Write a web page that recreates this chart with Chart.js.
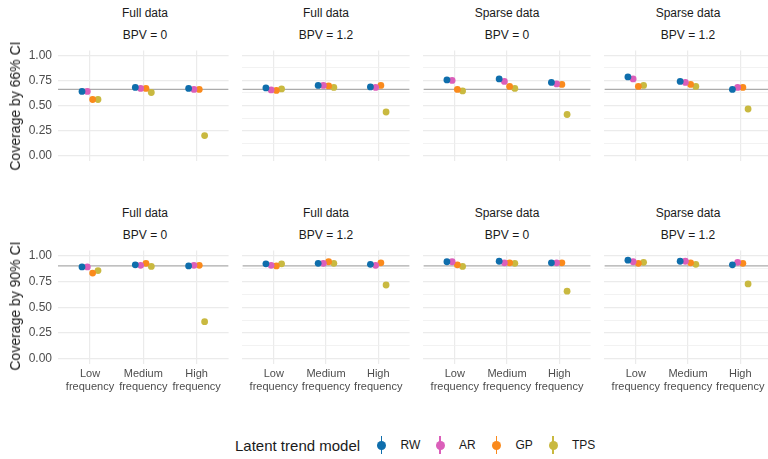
<!DOCTYPE html>
<html>
<head>
<meta charset="utf-8">
<script src="https://cdn.jsdelivr.net/npm/chart.js@4.4.1/dist/chart.umd.min.js"></script>
<style>
  html, body { margin: 0; padding: 0; width: 768px; height: 459px; overflow: hidden; background: #fff;
    font-family: "Liberation Sans", Arial, sans-serif; }
  #stage { position: relative; width: 768px; height: 459px; overflow: hidden; }
  canvas { position: absolute; }
  .lbl { position: absolute; white-space: nowrap; line-height: 1; }
  .ctr { transform: translate(-50%, -50%); }
  .strip { font-size: 12px; color: #1A1A1A; }
  .ytitle { font-size: 14px; color: #1A1A1A; transform: translate(-50%, -50%) rotate(-90deg); }
  .legtitle { font-size: 15px; color: #1A1A1A; transform: translateY(-50%); }
  .legtext { font-size: 12px; color: #1A1A1A; transform: translateY(-50%); }
  .key { position: absolute; width: 18px; height: 20px; transform: translate(-50%, -50%); }
  .key .bar { position: absolute; left: 8.2px; top: 1px; width: 1.6px; height: 18px; }
  .key .dot { position: absolute; left: 4.5px; top: 5.5px; width: 9px; height: 9px; border-radius: 50%; }
</style>
</head>
<body>
<div id="stage"></div>
<script>
// ---- data -------------------------------------------------------------
const frequencies = [["Low", "frequency"], ["Medium", "frequency"], ["High", "frequency"]];
const models = ["RW", "AR", "GP", "TPS"];
const modelColours = ["#0F6EAC", "#DB5FBA", "#FA8A1C", "#C9B940"];
const dataLabels = ["Full data", "Full data", "Sparse data", "Sparse data"];
const bpvLabels = ["BPV = 0", "BPV = 1.2", "BPV = 0", "BPV = 1.2"];
const ciTitles = ["Coverage by 66% CI", "Coverage by 90% CI"];
const nominalCoverage = [0.66, 0.90];
const yMajorTicks = [0, 0.25, 0.5, 0.75, 1];

// coverage per model (rows: RW, AR, GP, TPS) and frequency (Low, Medium, High)
const cov66FullBpv0   = [[0.64, 0.68, 0.67], [0.64, 0.67, 0.66], [0.56, 0.67, 0.66], [0.56, 0.63, 0.20]];
const cov66FullBpv12  = [[0.675, 0.70, 0.685], [0.655, 0.70, 0.68], [0.65, 0.695, 0.70], [0.665, 0.68, 0.435]];
const cov66SparseBpv0 = [[0.755, 0.765, 0.73], [0.75, 0.74, 0.715], [0.66, 0.69, 0.71], [0.645, 0.67, 0.41]];
const cov66SparseBpv12 = [[0.785, 0.74, 0.66], [0.765, 0.73, 0.68], [0.69, 0.71, 0.68], [0.70, 0.69, 0.465]];
const cov90FullBpv0   = [[0.89, 0.91, 0.90], [0.89, 0.905, 0.905], [0.83, 0.925, 0.905], [0.855, 0.895, 0.36]];
const cov90FullBpv12  = [[0.92, 0.925, 0.915], [0.905, 0.925, 0.905], [0.90, 0.94, 0.93], [0.92, 0.925, 0.715]];
const cov90SparseBpv0 = [[0.94, 0.945, 0.93], [0.94, 0.93, 0.93], [0.91, 0.93, 0.93], [0.895, 0.925, 0.655]];
const cov90SparseBpv12 = [[0.955, 0.945, 0.91], [0.94, 0.945, 0.935], [0.925, 0.93, 0.925], [0.935, 0.915, 0.725]];

const panelData = [
  [cov66FullBpv0, cov66FullBpv12, cov66SparseBpv0, cov66SparseBpv12],
  [cov90FullBpv0, cov90FullBpv12, cov90SparseBpv0, cov90SparseBpv12]
];

// ---- layout -----------------------------------------------------------
const FONT = "'Liberation Sans', Arial, sans-serif";
const AREA_LEFT = [58, 239, 420, 601];
const AREA_W = 174;
const AREA_TOP = [47, 247];
const AREA_H = 117;
const Y_AXIS_W = 58;
const X_AXIS_H = 42;
const DODGE = 0.1;

const stage = document.getElementById('stage');

function addLabel(text, cls, x, y) {
  const d = document.createElement('div');
  d.className = 'lbl ' + cls;
  d.textContent = text;
  d.style.left = x + 'px';
  d.style.top = y + 'px';
  stage.appendChild(d);
  return d;
}

const isMajor = v => yMajorTicks.some(t => Math.abs(t - v) < 1e-9);
const yGridValues = [];
for (let i = 0; i < yMajorTicks.length; i++) {
  yGridValues.push(yMajorTicks[i]);
  if (i < yMajorTicks.length - 1) yGridValues.push((yMajorTicks[i] + yMajorTicks[i + 1]) / 2);
}

function makePanel(row, col) {
  const values = panelData[row][col];
  const withY = col === 0;
  const withX = row === 1;
  const cv = document.createElement('canvas');
  const left = AREA_LEFT[col] - (withY ? Y_AXIS_W : 0);
  const w = AREA_W + (withY ? Y_AXIS_W : 0);
  const h = AREA_H + (withX ? X_AXIS_H : 0);
  cv.width = w; cv.height = h;
  cv.style.left = left + 'px';
  cv.style.top = AREA_TOP[row] + 'px';
  cv.style.width = w + 'px';
  cv.style.height = h + 'px';
  stage.appendChild(cv);

  const datasets = models.map((m, k) => ({
    label: m,
    order: 1,
    data: values[k].map((v, i) => ({ x: i + (k - (models.length - 1) / 2) * DODGE, y: v })),
    backgroundColor: modelColours[k],
    borderColor: modelColours[k],
    borderWidth: 0,
    pointRadius: 3.4,
    pointHoverRadius: 3.4
  }));
  // nominal coverage reference line
  datasets.push({
    type: 'line',
    label: 'nominal',
    order: 10,
    data: [{ x: -0.6, y: nominalCoverage[row] }, { x: frequencies.length - 0.4, y: nominalCoverage[row] }],
    borderColor: '#ABABAB',
    borderWidth: 1.3,
    pointRadius: 0,
    fill: false
  });

  new Chart(cv, {
    type: 'scatter',
    data: { datasets },
    options: {
      responsive: false,
      animation: false,
      devicePixelRatio: 1,
      layout: { padding: 0 },
      plugins: { legend: { display: false }, tooltip: { enabled: false } },
      scales: {
        x: {
          type: 'linear',
          min: -0.6,
          max: frequencies.length - 0.4,
          afterBuildTicks: s => { s.ticks = frequencies.map((_, i) => ({ value: i })); },
          ticks: {
            display: withX,
            autoSkip: false,
            maxRotation: 0,
            padding: 4,
            color: '#4D4D4D',
            font: { family: FONT, size: 11, lineHeight: 1.14 },
            callback: v => frequencies[v]
          },
          grid: { color: '#EBEBEB', lineWidth: 1.2, drawTicks: false },
          border: { display: false },
          afterFit: s => {
            s.height = withX ? X_AXIS_H : 0;
            s.paddingLeft = 0; s.paddingRight = 0; s.paddingTop = 0; s.paddingBottom = 0;
          }
        },
        y: {
          type: 'linear',
          min: -0.05,
          max: 1.05,
          afterBuildTicks: s => { s.ticks = yGridValues.map(v => ({ value: v })); },
          ticks: {
            display: withY,
            padding: 6,
            color: '#4D4D4D',
            font: { family: FONT, size: 12 },
            callback: v => isMajor(v) ? v.toFixed(2) : ''
          },
          grid: {
            color: ctx => isMajor(ctx.tick.value) ? '#EBEBEB' : '#EFEFEF',
            lineWidth: ctx => isMajor(ctx.tick.value) ? 1.2 : 0.8,
            drawTicks: false
          },
          border: { display: false },
          afterFit: s => {
            s.width = withY ? Y_AXIS_W : 0;
            s.paddingLeft = 0; s.paddingRight = 0; s.paddingTop = 0; s.paddingBottom = 0;
          }
        }
      }
    }
  });

  // facet strip labels
  const cx = AREA_LEFT[col] + AREA_W / 2;
  addLabel(dataLabels[col], 'strip ctr', cx, AREA_TOP[row] - 34);
  addLabel(bpvLabels[col], 'strip ctr', cx, AREA_TOP[row] - 12);
}

for (let r = 0; r < 2; r++) {
  for (let c = 0; c < 4; c++) makePanel(r, c);
  addLabel(ciTitles[r], 'ytitle', 15, AREA_TOP[r] + AREA_H / 2);
}

// legend
addLabel('Latent trend model', 'legtitle', 235, 445);
const keyX = [381.5, 440, 496.5, 553];
models.forEach((m, k) => {
  const key = document.createElement('div');
  key.className = 'key';
  key.style.left = keyX[k] + 'px';
  key.style.top = '445px';
  key.innerHTML = '<div class="bar"></div><div class="dot"></div>';
  key.querySelector('.bar').style.background = modelColours[k];
  key.querySelector('.dot').style.background = modelColours[k];
  stage.appendChild(key);
  addLabel(m, 'legtext', keyX[k] + 19, 445);
});
</script>
</body>
</html>
